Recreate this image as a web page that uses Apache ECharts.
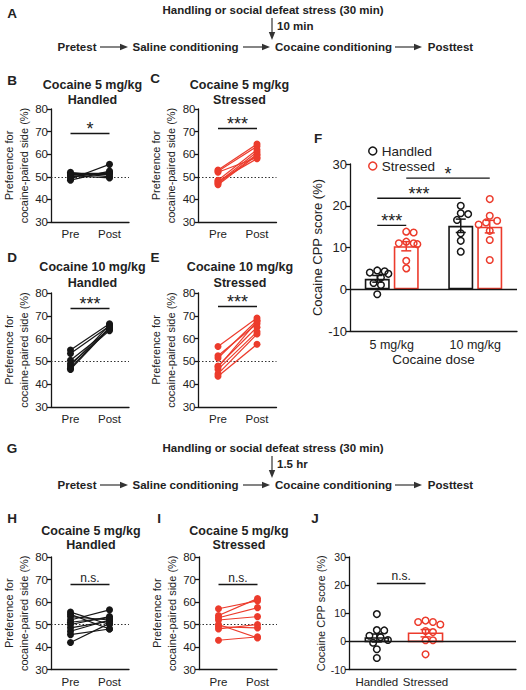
<!DOCTYPE html>
<html><head><meta charset="utf-8">
<script src="https://cdn.jsdelivr.net/npm/echarts@6/dist/echarts.min.js"></script>
<style>html,body{margin:0;padding:0;background:#fff;}#c{width:526px;height:690px;}</style>
</head><body><div id="c"></div>
<script>
// ---------------- DATA ----------------
const prePostLabels = ['Pre', 'Post'];
// B: Cocaine 5 mg/kg, Handled (10 min)
const bPre  = [49.0, 50.0, 51.5, 52.0, 48.5, 50.5, 51.0];
const bPost = [55.5, 52.0, 51.5, 50.0, 52.5, 49.5, 51.0];
// C: Cocaine 5 mg/kg, Stressed (10 min)
const cPre  = [53.0, 52.5, 48.5, 47.5, 47.0, 46.5, 48.0, 52.0];
const cPost = [64.5, 63.5, 62.0, 61.0, 60.0, 59.5, 58.0, 58.5];
// D: Cocaine 10 mg/kg, Handled
const dPre  = [55.0, 53.5, 50.5, 49.0, 48.0, 47.0, 46.5];
const dPost = [66.5, 65.5, 64.0, 63.5, 66.0, 65.0, 64.5];
// E: Cocaine 10 mg/kg, Stressed
const ePre  = [56.5, 52.5, 51.5, 48.0, 46.5, 44.5, 43.5, 47.5];
const ePost = [69.0, 66.5, 68.0, 65.0, 63.0, 62.0, 57.5, 67.5];
// F: CPP score
const fDoses = ['5 mg/kg', '10 mg/kg'];
const fGroups = ['Handled', 'Stressed'];
const fMeanHandled  = [2.5, 15.2];
const fMeanStressed = [10.3, 15.0];
const fSemHandled   = [0.8, 1.6];
const fSemStressed  = [1.1, 1.5];
const fHandled5   = [4.0, 3.7, 4.3, 2.8, 1.0, 1.5, -1.2, 4.5];
const fStressed5  = [13.6, 13.8, 11.4, 11.0, 11.0, 10.8, 6.8, 5.0];
const fHandled10  = [20.0, 18.0, 18.2, 16.6, 13.4, 11.6, 9.0];
const fStressed10 = [21.6, 16.4, 17.6, 16.0, 15.5, 14.0, 11.8, 7.0];
// H: Cocaine 5 mg/kg, Handled (1.5 hr)
const hPre  = [55.5, 54.5, 53.5, 52.0, 50.0, 48.5, 47.0, 45.5, 42.0, 51.0];
const hPost = [50.0, 48.0, 52.0, 56.5, 53.5, 51.5, 52.0, 48.0, 50.5, 53.0];
// I: Cocaine 5 mg/kg, Stressed (1.5 hr)
const iPre  = [57.0, 54.0, 53.0, 52.0, 50.0, 49.0, 48.0, 43.0];
const iPost = [60.5, 61.5, 57.5, 53.5, 44.0, 48.5, 50.0, 44.5];
// J: CPP score (1.5 hr)
const jGroups = ['Handled', 'Stressed'];
const jMeans = [1.2, 2.9];
const jSems  = [1.4, 1.3];
const jHandled  = [9.7, 3.9, 4.0, 2.0, 1.5, 0.5, -0.5, -2.8, -5.9];
const jStressed = [6.0, 6.9, 7.4, 6.9, 3.3, 3.7, 0.4, 0.4, -4.6];
// significance annotations
const sigB = ['*', 69.3], sigC = ['***', 71.6], sigD = ['***', 73.4], sigE = ['***', 74.3];
const sigH = ['n.s.', 67.7], sigI = ['n.s.', 67.7];
const fSig = [ // [cat, group] -> [cat, group]
  {a:[0,0], b:[0,1], y:15.3, text:'***'},
  {a:[0,0], b:[1,0], y:21.8, text:'***'},
  {a:[0,1], b:[1,1], y:26.6, text:'*'}
];
const jSig = ['n.s.', 20.7];

// ---------------- STYLE / LAYOUT ----------------
const FF = '"Liberation Sans", Arial, Helvetica, sans-serif';
const BLACK = '#161616', RED = '#ec3b2c', TXT = '#222';
const groupColors = [BLACK, RED];
const F_BAR_W = 25, F_BAR_GAP = 4;
const fOff = [-(F_BAR_W + F_BAR_GAP) / 2, (F_BAR_W + F_BAR_GAP) / 2];
const J_POS = [4, 11];           // x positions on J's value axis (0..24)
const J_BAR_W = [23, 34];
const DOT_R = 3.3;

const grids = [], xAxes = [], yAxes = [], series = [];

function swarm(ys, d, maxOff) {
  const order = ys.map((y, i) => i).sort((a, b) => ys[a] - ys[b]);
  const cands = [0];
  for (let k = 1; k <= 8; k++) { cands.push(k * d * 0.5, -k * d * 0.5); }
  const placed = [], off = new Array(ys.length).fill(0);
  for (const i of order) {
    let best = null, bestC = 0, bestOv = Infinity;
    for (const c of cands) {
      if (Math.abs(c) > maxOff) continue;
      let ov = 0;
      for (const p of placed) { const dd = Math.hypot(p.x - c, p.y - ys[i]); if (dd < d) ov += d - dd; }
      if (ov === 0) { best = c; break; }
      if (ov < bestOv) { bestOv = ov; bestC = c; }
    }
    if (best === null) best = bestC;
    off[i] = best; placed.push({x: best, y: ys[i]});
  }
  return off;
}

function axisLineStyle() { return {color: BLACK, width: 1.3}; }

function addLinePanel(box, pre, post, color, sig) {
  const gi = grids.length;
  grids.push({left: box[0], top: box[1], width: box[2], height: box[3]});
  xAxes.push({gridIndex: gi, type: 'category', data: prePostLabels, boundaryGap: true,
    axisLine: {lineStyle: axisLineStyle()},
    axisTick: {alignWithLabel: true, length: 4, lineStyle: axisLineStyle()},
    axisLabel: {color: TXT, fontSize: 11.5, fontFamily: FF, margin: 6}});
  yAxes.push({gridIndex: gi, type: 'value', min: 30, max: 80, interval: 10,
    splitLine: {show: false},
    axisLine: {show: true, lineStyle: axisLineStyle()},
    axisTick: {show: true, length: 4, lineStyle: axisLineStyle()},
    axisLabel: {color: TXT, fontSize: 11.5, fontFamily: FF, margin: 3},
    name: 'Preference for\ncocaine-paired side (%)', nameLocation: 'middle', nameGap: 18,
    nameTextStyle: {color: TXT, fontSize: 11, fontFamily: FF, lineHeight: 15}});
  const isNs = sig[0] === 'n.s.';
  pre.forEach((p, i) => {
    const s = {type: 'line', xAxisIndex: gi, yAxisIndex: gi, data: [p, post[i]],
      symbol: 'circle', symbolSize: 7, showSymbol: true, silent: true, z: 3,
      lineStyle: {color: color, width: 1.2}, itemStyle: {color: color}};
    if (i === 0) {
      s.markLine = {symbol: ['none', 'none'], silent: true, z: 2, label: {show: false},
        data: [
          {yAxis: 50, lineStyle: {type: [1.5, 2], color: '#333', width: 1}},
          [{coord: [0, sig[1]], lineStyle: {type: 'solid', color: BLACK, width: 1.3},
            label: {show: true, formatter: sig[0], position: 'insideMiddleTop',
              distance: isNs ? 1 : -5, color: TXT, fontFamily: FF, fontSize: isNs ? 12 : 18}},
           {coord: [1, sig[1]]}]
        ]};
    }
    series.push(s);
  });
}

addLinePanel([51, 109, 78, 113], bPre, bPost, BLACK, sigB);
addLinePanel([198.5, 109, 78, 113], cPre, cPost, RED, sigC);
addLinePanel([51, 293, 78, 114], dPre, dPost, BLACK, sigD);
addLinePanel([198.5, 293, 78, 114], ePre, ePost, RED, sigE);
addLinePanel([51, 557, 78, 112.5], hPre, hPost, BLACK, sigH);
addLinePanel([199, 557, 78, 112.5], iPre, iPost, RED, sigI);

// ---------------- F ----------------
const fGi = grids.length;
grids.push({left: 350, top: 164, width: 167, height: 167});
xAxes.push({gridIndex: fGi, type: 'category', data: fDoses,
  axisLine: {onZero: false, lineStyle: axisLineStyle()}, axisTick: {show: false},
  axisLabel: {color: TXT, fontSize: 12.5, fontFamily: FF, margin: 7},
  name: 'Cocaine dose', nameLocation: 'middle', nameGap: 21,
  nameTextStyle: {color: TXT, fontSize: 13.5, fontFamily: FF}});
yAxes.push({gridIndex: fGi, type: 'value', min: -10, max: 30, interval: 10, splitLine: {show: false},
  axisLine: {show: true, lineStyle: axisLineStyle()},
  axisTick: {show: true, length: 4, lineStyle: axisLineStyle()},
  axisLabel: {color: TXT, fontSize: 13, fontFamily: FF, margin: 3},
  name: 'Cocaine CPP score (%)', nameLocation: 'middle', nameGap: 24,
  nameTextStyle: {color: TXT, fontSize: 13, fontFamily: FF}});
const fMeans = [fMeanHandled, fMeanStressed];
const fSems = [fSemHandled, fSemStressed];
const fPoints = [[fHandled5, fHandled10], [fStressed5, fStressed10]];
fGroups.forEach((name, g) => {
  const s = {type: 'bar', name: name, xAxisIndex: fGi, yAxisIndex: fGi, data: fMeans[g],
    barWidth: F_BAR_W, barGap: (F_BAR_GAP / F_BAR_W * 100) + '%', silent: true, z: 2,
    itemStyle: {color: '#fff', borderColor: groupColors[g], borderWidth: 1.6}};
  if (g === 0) s.markLine = {symbol: ['none', 'none'], silent: true, label: {show: false},
    lineStyle: {type: 'solid', color: BLACK, width: 1.3}, data: [{yAxis: 0}]};
  series.push(s);
});
function errBarItem(x, yTop, yBot, col) {
  const st = {stroke: col, lineWidth: 1.5};
  return {type: 'group', children: [
    {type: 'line', shape: {x1: x, y1: yTop, x2: x, y2: yBot}, style: st},
    {type: 'line', shape: {x1: x - 5, y1: yTop, x2: x + 5, y2: yTop}, style: st},
    {type: 'line', shape: {x1: x - 5, y1: yBot, x2: x + 5, y2: yBot}, style: st}]};
}
const fErrData = [];
fGroups.forEach((n, g) => fDoses.forEach((d, c) => fErrData.push([c, fMeans[g][c], fSems[g][c], g])));
series.push({type: 'custom', xAxisIndex: fGi, yAxisIndex: fGi, z: 3, silent: true,
  encode: {x: 0, y: 1}, data: fErrData,
  renderItem: (params, api) => {
    const c = api.value(0), m = api.value(1), e = api.value(2), g = api.value(3);
    const x = api.coord([c, m])[0] + fOff[g];
    return errBarItem(x, api.coord([c, m + e])[1], api.coord([c, m - e])[1], groupColors[g]);
  }});
const fDotData = [];
fPoints.forEach((byDose, g) => byDose.forEach((arr, c) => arr.forEach((v, k) => fDotData.push([c, v, g, k]))));
series.push({type: 'custom', xAxisIndex: fGi, yAxisIndex: fGi, z: 4, silent: true,
  encode: {x: 0, y: 1}, data: fDotData,
  renderItem: (params, api) => {
    const c = api.value(0), v = api.value(1), g = api.value(2), k = api.value(3);
    const arr = fPoints[g][c];
    const offs = swarm(arr.map(val => api.coord([c, val])[1]), 7.4, 13);
    const p = api.coord([c, v]);
    return {type: 'circle', shape: {cx: p[0] + fOff[g] + offs[k], cy: p[1], r: DOT_R},
      style: {fill: 'rgba(255,255,255,0)', stroke: groupColors[g], lineWidth: 1.5}};
  }});
series.push({type: 'custom', xAxisIndex: fGi, yAxisIndex: fGi, z: 4, silent: true,
  encode: {x: 0, y: 1}, data: fSig.map(s => [s.a[0], s.y]),
  renderItem: (params, api) => {
    const s = fSig[params.dataIndex];
    const xa = api.coord([s.a[0], s.y])[0] + fOff[s.a[1]];
    const xb = api.coord([s.b[0], s.y])[0] + fOff[s.b[1]];
    const y = api.coord([0, s.y])[1];
    return {type: 'group', children: [
      {type: 'line', shape: {x1: xa, y1: y, x2: xb, y2: y}, style: {stroke: BLACK, lineWidth: 1.3}},
      {type: 'text', style: {text: s.text, x: (xa + xb) / 2, y: y + 5, align: 'center', verticalAlign: 'bottom',
        textAlign: 'center', textVerticalAlign: 'bottom', font: '18px ' + FF, fill: TXT}}]};
  }});

// ---------------- J ----------------
const jGi = grids.length;
grids.push({left: 349, top: 557, width: 167, height: 112.5});
const jLabelAt = {};
jGroups.forEach((n, g) => { jLabelAt[J_POS[g]] = n; });
xAxes.push({gridIndex: jGi, type: 'value', min: 0, max: 24, interval: 1, splitLine: {show: false},
  axisLine: {onZero: false, lineStyle: axisLineStyle()}, axisTick: {show: false},
  axisLabel: {color: TXT, fontSize: 11.5, fontFamily: FF, margin: 6, showMinLabel: true, showMaxLabel: true,
    formatter: v => jLabelAt[v] || ''}});
yAxes.push({gridIndex: jGi, type: 'value', min: -10, max: 30, interval: 10, splitLine: {show: false},
  axisLine: {show: true, lineStyle: axisLineStyle()},
  axisTick: {show: true, length: 4, lineStyle: axisLineStyle()},
  axisLabel: {color: TXT, fontSize: 10.5, fontFamily: FF, margin: 3},
  name: 'Cocaine CPP score (%)', nameLocation: 'middle', nameGap: 20,
  nameTextStyle: {color: TXT, fontSize: 11, fontFamily: FF}});
const jPoints = [jHandled, jStressed];
series.push({type: 'custom', xAxisIndex: jGi, yAxisIndex: jGi, z: 2, silent: true,
  encode: {x: 0, y: 1}, data: jMeans.map((m, g) => [J_POS[g], m, g]),
  renderItem: (params, api) => {
    const x = api.value(0), m = api.value(1), g = api.value(2);
    const p = api.coord([x, m]), p0 = api.coord([x, 0]);
    const w = J_BAR_W[g];
    return {type: 'rect', shape: {x: p[0] - w / 2, y: p[1], width: w, height: p0[1] - p[1]},
      style: {fill: '#fff', stroke: groupColors[g], lineWidth: 1.6}};
  },
  markLine: {symbol: ['none', 'none'], silent: true, label: {show: false},
    data: [
      {yAxis: 0, lineStyle: {type: 'solid', color: BLACK, width: 1.3}},
      [{coord: [J_POS[0], jSig[1]], lineStyle: {type: 'solid', color: BLACK, width: 1.3},
        label: {show: true, formatter: jSig[0], position: 'insideMiddleTop', distance: 1,
          color: TXT, fontFamily: FF, fontSize: 12}},
       {coord: [J_POS[1], jSig[1]]}]
    ]}});
series.push({type: 'custom', xAxisIndex: jGi, yAxisIndex: jGi, z: 3, silent: true,
  encode: {x: 0, y: 1}, data: jMeans.map((m, g) => [J_POS[g], m, jSems[g], g]),
  renderItem: (params, api) => {
    const x = api.value(0), m = api.value(1), e = api.value(2), g = api.value(3);
    const px = api.coord([x, m])[0];
    return errBarItem(px, api.coord([x, m + e])[1], api.coord([x, m - e])[1], groupColors[g]);
  }});
const jDotData = [];
jPoints.forEach((arr, g) => arr.forEach((v, k) => jDotData.push([J_POS[g], v, g, k])));
series.push({type: 'custom', xAxisIndex: jGi, yAxisIndex: jGi, z: 4, silent: true,
  encode: {x: 0, y: 1}, data: jDotData,
  renderItem: (params, api) => {
    const x = api.value(0), v = api.value(1), g = api.value(2), k = api.value(3);
    const arr = jPoints[g];
    const offs = swarm(arr.map(val => api.coord([x, val])[1]), 7.4, g === 0 ? 13 : 17);
    const p = api.coord([x, v]);
    return {type: 'circle', shape: {cx: p[0] + offs[k], cy: p[1], r: DOT_R},
      style: {fill: 'rgba(255,255,255,0)', stroke: groupColors[g], lineWidth: 1.5}};
  }});

// ---------------- TEXT / SCHEMATIC ----------------
function txt(text, x, y, size, bold, align) {
  const a = align || 'center';
  return {type: 'text', x: x, y: y, silent: true, z: 10,
    style: {text: text, font: (bold ? 'bold ' : '') + size + 'px ' + FF, fill: TXT,
      align: a, textAlign: a, verticalAlign: 'middle', textVerticalAlign: 'middle'}};
}
function hArrow(x1, x2, y) {
  return [
    {type: 'line', silent: true, z: 10, shape: {x1: x1, y1: y, x2: x2 - 5, y2: y}, style: {stroke: '#333', lineWidth: 1.2}},
    {type: 'polygon', silent: true, z: 10, shape: {points: [[x2 - 8, y - 3.2], [x2, y], [x2 - 8, y + 3.2]]}, style: {fill: '#333'}}];
}
function vArrow(x, y1, y2) {
  return [
    {type: 'line', silent: true, z: 10, shape: {x1: x, y1: y1, x2: x, y2: y2 - 5}, style: {stroke: '#333', lineWidth: 1.2}},
    {type: 'polygon', silent: true, z: 10, shape: {points: [[x - 3.2, y2 - 8], [x, y2], [x + 3.2, y2 - 8]]}, style: {fill: '#333'}}];
}
function schematic(y0, delayText) {
  return [
    txt('Handling or social defeat stress (30 min)', 273, y0, 11.5, true),
    ...vArrow(272, y0 + 8, y0 + 30),
    txt(delayText, 277, y0 + 16, 11.5, true, 'left'),
    txt('Pretest', 77, y0 + 37, 11.5, true),
    ...hArrow(100, 128, y0 + 37),
    txt('Saline conditioning', 185.5, y0 + 37, 11.5, true),
    ...hArrow(243, 270, y0 + 37),
    txt('Cocaine conditioning', 333.5, y0 + 37, 11.5, true),
    ...hArrow(395, 422, y0 + 37),
    txt('Posttest', 450.5, y0 + 37, 11.5, true)
  ];
}
const graphics = [
  ...schematic(10, '10 min'),
  ...schematic(448, '1.5 hr'),
  txt('A', 12, 13, 13.5, true), txt('B', 12, 80, 13.5, true), txt('C', 155, 78, 13.5, true),
  txt('D', 12, 257, 13.5, true), txt('E', 155, 257, 13.5, true), txt('F', 318, 138, 13.5, true),
  txt('G', 12, 448, 13.5, true), txt('H', 12, 518, 13.5, true), txt('I', 159, 518, 13.5, true),
  txt('J', 315, 518, 13.5, true),
  txt('Cocaine 5 mg/kg', 92.5, 85, 12.5, true), txt('Handled', 92.5, 100, 12.5, true),
  txt('Cocaine 5 mg/kg', 239.5, 85, 12.5, true), txt('Stressed', 239.5, 100, 12.5, true),
  txt('Cocaine 10 mg/kg', 92.5, 267, 12.5, true), txt('Handled', 92.5, 283, 12.5, true),
  txt('Cocaine 10 mg/kg', 240, 267, 12.5, true), txt('Stressed', 240, 283, 12.5, true),
  txt('Cocaine 5 mg/kg', 91, 531, 12.5, true), txt('Handled', 91, 545, 12.5, true),
  txt('Cocaine 5 mg/kg', 239, 531, 12.5, true), txt('Stressed', 239, 545, 12.5, true)
];

const option = {
  animation: false,
  backgroundColor: '#fff',
  grid: grids, xAxis: xAxes, yAxis: yAxes, series: series,
  legend: {orient: 'vertical', left: 363, top: 139, itemWidth: 8, itemHeight: 8, itemGap: 1,
    selectedMode: false, textStyle: {color: TXT, fontSize: 13.5, fontFamily: FF},
    data: fGroups.map((n, g) => ({name: n, icon: 'circle',
      itemStyle: {color: '#fff', borderColor: groupColors[g], borderWidth: 1.5}}))},
  graphic: graphics
};
const chart = echarts.init(document.getElementById('c'), null, {renderer: 'svg'});
chart.setOption(option);
</script></body></html>
